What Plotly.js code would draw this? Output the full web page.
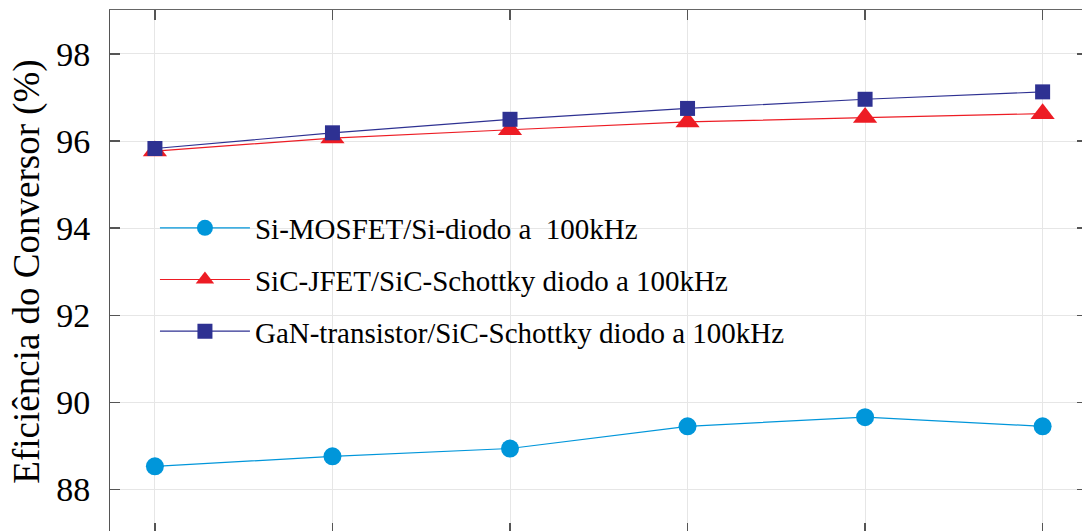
<!DOCTYPE html>
<html>
<head>
<meta charset="utf-8">
<script src="https://cdn.plot.ly/plotly-3.0.1.min.js"></script>
<style>
html, body { margin: 0; padding: 0; overflow: hidden; background: #fff; }
#chart { width: 1090px; height: 540px; }
</style>
</head>
<body>
<div id="chart"></div>
<script>
// Data
var xPoints = [1, 2, 3, 4, 5, 6];
var seriesNames = [
  "Si-MOSFET/Si-diodo a  100kHz",
  "SiC-JFET/SiC-Schottky diodo a 100kHz",
  "GaN-transistor/SiC-Schottky diodo a 100kHz"
];
var siMosfet = [88.53, 88.76, 88.94, 89.45, 89.66, 89.45];
var sicJfet = [95.77, 96.07, 96.26, 96.44, 96.54, 96.63];
var ganTransistor = [95.83, 96.19, 96.50, 96.75, 96.96, 97.13];
var yTicks = [88, 90, 92, 94, 96, 98];
var yTickLabels = ["88", "90", "92", "94", "96", "98"];
var yTitle = "Eficiência do Conversor (%)";

var serif = "Liberation Serif, Times New Roman, serif";

var traces = [
  {
    x: xPoints, y: siMosfet, name: seriesNames[0], mode: "lines+markers", legendgroup: "a",
    line: {color: "#0096DA", width: 1.2},
    marker: {symbol: "circle", size: 18, color: "#0096DA"}
  },
  {
    x: xPoints, y: sicJfet, name: seriesNames[1], mode: "lines+markers", legendgroup: "b",
    line: {color: "#ED1C24", width: 1.2},
    marker: {symbol: "triangle-up", size: 21, color: "#ED1C24"}
  },
  {
    x: xPoints, y: ganTransistor, name: seriesNames[2], mode: "lines+markers", legendgroup: "c",
    line: {color: "#2E3192", width: 1.2},
    marker: {symbol: "square", size: 15, color: "#2E3192"}
  }
];

var layout = {
  width: 1090, height: 540,
  margin: {l: 110, r: 3, t: 10, b: 7},
  paper_bgcolor: "#fff", plot_bgcolor: "#fff",
  font: {family: serif, color: "#000", size: 29},
  showlegend: true,
  legend: {
    x: 0.046, y: 0.632, xanchor: "left", yanchor: "top",
    bgcolor: "rgba(0,0,0,0)", borderwidth: 0,
    font: {family: serif, size: 29, color: "#000"},
    itemwidth: 90, tracegroupgap: 11
  },
  xaxis: {
    range: [0.747, 6.25], tickvals: xPoints, showticklabels: false,
    showgrid: true, gridcolor: "#e6e6e6", gridwidth: 1,
    zeroline: false, showline: true, linecolor: "#666", linewidth: 1,
    mirror: "ticks", ticks: "inside", ticklen: 10, tickcolor: "#555", tickwidth: 1.5
  },
  yaxis: {
    range: [87, 99.01], tickvals: yTicks, ticktext: yTickLabels,
    showgrid: true, gridcolor: "#e6e6e6", gridwidth: 1,
    zeroline: false, showline: true, linecolor: "#555", linewidth: 1,
    mirror: "ticks", ticks: "inside", ticklen: 10, tickcolor: "#555", tickwidth: 1.5,
    tickfont: {family: serif, size: 34, color: "#000"},
    ticklabelstandoff: 12,
    title: {text: yTitle, font: {family: serif, size: 37, color: "#000"}, standoff: 5},
    automargin: false
  }
};

Plotly.newPlot("chart", traces, layout, {displayModeBar: false, staticPlot: true});
</script>
</body>
</html>
